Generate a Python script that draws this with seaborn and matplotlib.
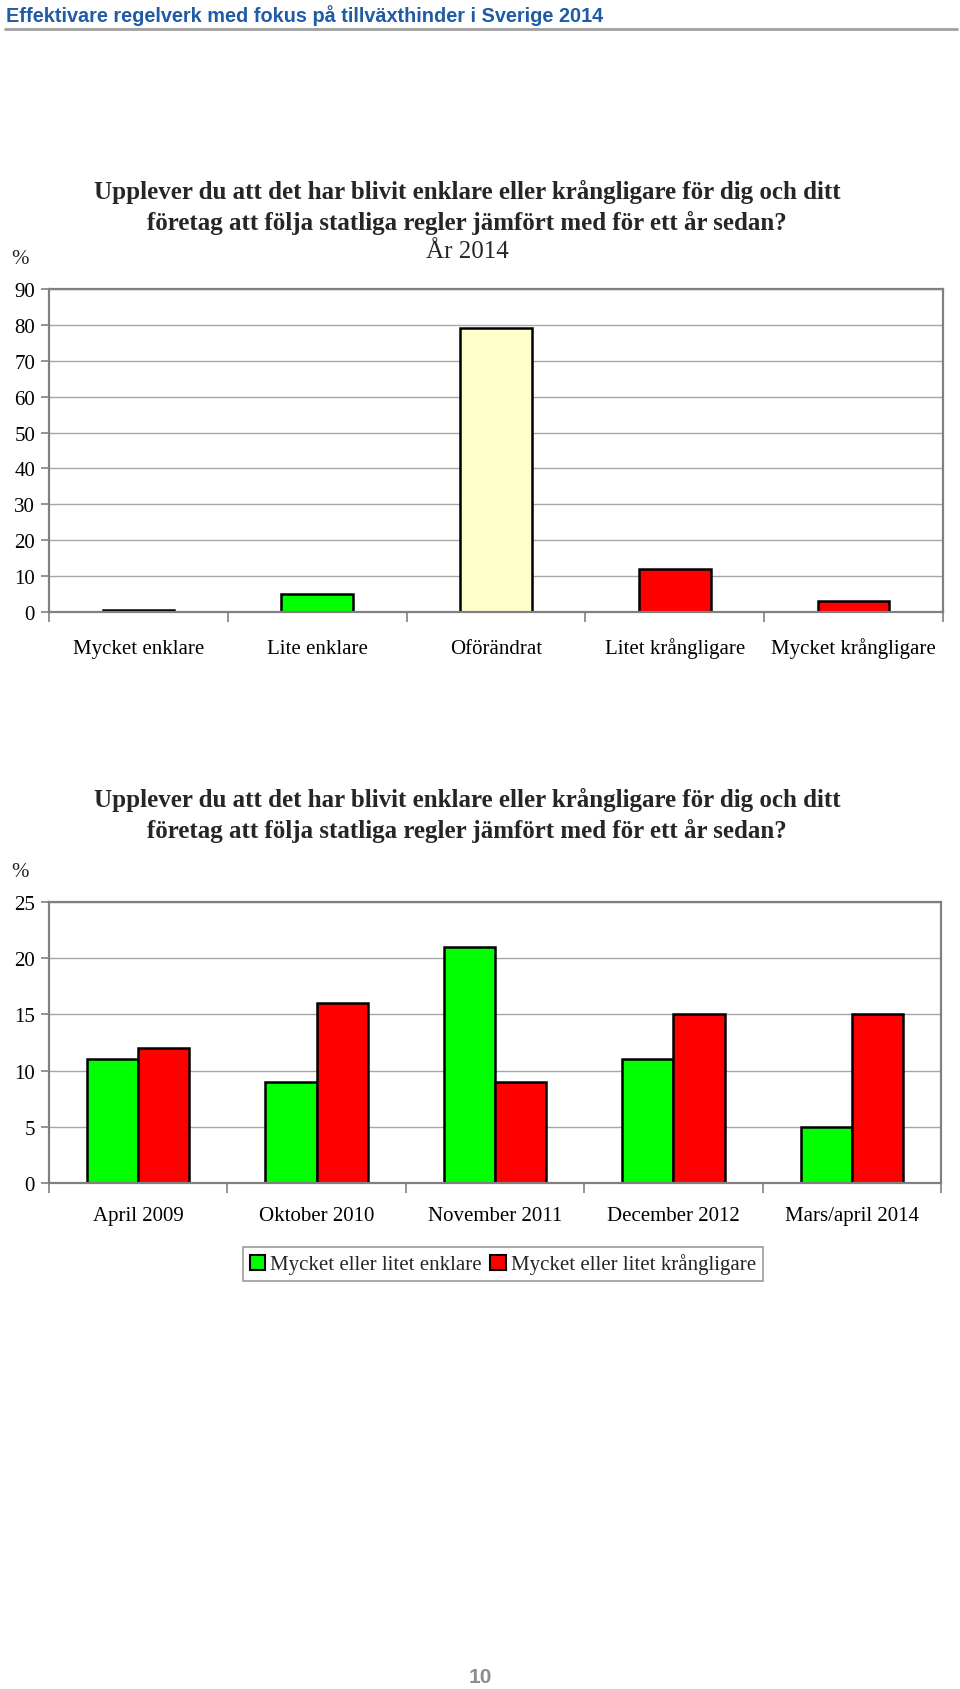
import matplotlib
matplotlib.use("Agg")
import matplotlib.pyplot as plt
import seaborn as sns
import pandas as pd
from matplotlib.patches import Patch

# ---------------- data ----------------
header = "Effektivare regelverk med fokus på tillväxthinder i Sverige 2014"
title_lines = ["Upplever du att det har blivit enklare eller krångligare för dig och ditt",
               "företag att följa statliga regler jämfört med för ett år sedan?"]
top_subtitle = "År 2014"

top_categories = ["Mycket enklare", "Lite enklare", "Oförändrat", "Litet krångligare", "Mycket krångligare"]
top_values = [0.5, 5, 79, 12, 3]
top_colors = ["#00FF00", "#00FF00", "#FFFFCC", "#FF0000", "#FF0000"]
top_yticks = [0, 10, 20, 30, 40, 50, 60, 70, 80, 90]

periods = ["April 2009", "Oktober 2010", "November 2011", "December 2012", "Mars/april 2014"]
series_names = ["Mycket eller litet enklare", "Mycket eller litet krångligare"]
enklare = [11, 9, 21, 11, 5]
krangligare = [12, 16, 9, 15, 15]
bottom_colors = ["#00FF00", "#FF0000"]
bottom_yticks = [0, 5, 10, 15, 20, 25]
page_number = "10"

# ---------------- style ----------------
sns.set_theme(style="white")
plt.rcParams['font.family'] = ['Liberation Serif', 'DejaVu Serif']
W, H = 960, 1690
fig = plt.figure(figsize=(W / 100, H / 100), dpi=100)
fig.patch.set_facecolor("white")

def fx(px):
    return px / W

def fy(py):
    return 1 - py / H

GRID = "#A6A6A6"
SPINE = "#808080"
FS = 15
TFS = 18
TX = fx(467)

# header
fig.text(fx(6), fy(16), header, family=['Liberation Sans', 'DejaVu Sans'], fontweight='bold',
         fontsize=14.3, color="#1F5BA6", ha='left', va='center')
fig.add_artist(plt.Line2D([fx(5), fx(957)], [fy(30), fy(30)], color="#A0A0A0", lw=2))

def style_axes(ax, ymax, yticks, xpad):
    ax.set_xlim(-0.5, 4.5)
    ax.set_ylim(0, ymax)
    ax.set_yticks(yticks)
    ax.set_yticklabels([str(v) for v in yticks], fontsize=FS)
    ax.yaxis.grid(True, color=GRID, lw=1)
    ax.xaxis.grid(False)
    ax.set_axisbelow(True)
    for s in ax.spines.values():
        s.set_visible(True)
        s.set_color(SPINE)
        s.set_linewidth(1.6)
    ax.tick_params(axis='y', which='major', left=True, length=6, width=1.2, color=SPINE, pad=4, labelcolor='black')
    ax.set_xticks(range(5))
    ax.tick_params(axis='x', which='major', length=0, pad=xpad, labelsize=FS, labelcolor='black')
    ax.set_xticks([-0.5, 0.5, 1.5, 2.5, 3.5, 4.5], minor=True)
    ax.tick_params(axis='x', which='minor', bottom=True, length=7, width=1.2, color=SPINE)
    ax.set_xlabel("")
    ax.set_ylabel("")

# ---------------- top chart ----------------
ax1 = fig.add_axes([fx(49), fy(613), fx(943) - fx(49), fy(290) - fy(613)])
df_top = pd.DataFrame({"cat": top_categories, "val": top_values})
sns.barplot(data=df_top, x="cat", y="val", hue="cat", palette=top_colors, width=0.40,
            edgecolor="black", linewidth=1.8, legend=False, ax=ax1, saturation=1)
style_axes(ax1, 90, top_yticks, 29.5)
ax1.set_xticklabels(top_categories)
for lab in ax1.get_xticklabels():
    lab.set_va('baseline')

for i, line in enumerate(title_lines):
    fig.text(TX, fy(192 + 31 * i), line, fontsize=TFS, fontweight='bold', ha='center', va='center')
fig.text(TX, fy(252), top_subtitle, fontsize=TFS, ha='center', va='center')
fig.text(fx(20), fy(259), "%", fontsize=FS, ha='center', va='center')

# ---------------- bottom chart ----------------
ax2 = fig.add_axes([fx(49), fy(1184), fx(941) - fx(49), fy(903) - fy(1184)])
df_bot = pd.DataFrame({
    "period": periods * 2,
    "series": [series_names[0]] * len(periods) + [series_names[1]] * len(periods),
    "val": enklare + krangligare,
})
sns.barplot(data=df_bot, x="period", y="val", hue="series", palette=bottom_colors, width=0.575,
            edgecolor="black", linewidth=1.8, ax=ax2, saturation=1, legend=False)
style_axes(ax2, 25, bottom_yticks, 26.5)
ax2.set_xticklabels(periods)
for lab in ax2.get_xticklabels():
    lab.set_va('baseline')

for i, line in enumerate(title_lines):
    fig.text(TX, fy(800 + 31 * i), line, fontsize=TFS, fontweight='bold', ha='center', va='center')
fig.text(fx(20), fy(873), "%", fontsize=FS, ha='center', va='center')

handles = [Patch(facecolor=c, edgecolor='black', linewidth=1.5) for c in bottom_colors]
leg = fig.legend(handles, series_names, loc='center', bbox_to_anchor=(fx(503), fy(1265)), ncol=2,
                 fontsize=FS, frameon=True, fancybox=False, handlelength=0.75, handleheight=0.75,
                 handletextpad=0.25, columnspacing=0.4, borderpad=0.3, borderaxespad=0)
leg.get_frame().set_edgecolor(SPINE)
leg.get_frame().set_linewidth(1.2)

fig.text(0.5, fy(1678), page_number, family=['Liberation Sans', 'DejaVu Sans'], fontweight='bold',
         fontsize=15, color="#8C8C8C", ha='center', va='center')

fig.savefig("out.png", dpi=100, facecolor="white")
